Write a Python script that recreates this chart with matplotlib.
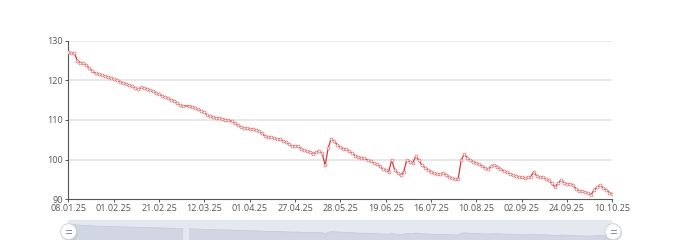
import numpy as np
import matplotlib
matplotlib.use("Agg")
import matplotlib.pyplot as plt
from matplotlib.patches import Ellipse
from matplotlib.lines import Line2D

# ---- data ----
tick_labels = ["08.01.25", "01.02.25", "21.02.25", "12.03.25", "01.04.25", "27.04.25",
               "28.05.25", "19.06.25", "16.07.25", "10.08.25", "02.09.25", "24.09.25", "10.10.25"]
label_step = 15

values = [
    127.1, 127.0, 126.8, 125.0, 124.5, 124.3, 123.8, 123.0, 122.3, 121.8,
    121.6, 121.4, 121.1, 120.9, 120.6, 120.4, 120.1, 119.7, 119.4, 119.2,
    118.8, 118.6, 118.1, 117.7, 118.2, 118.1, 117.9, 117.6, 117.3, 116.9,
    116.5, 116.1, 115.8, 115.5, 115.1, 114.9, 114.3, 113.8, 113.6, None,
    113.5, 113.4, 113.0, 112.7, 112.3, 111.9, 111.2, 110.9, 110.7, 110.6,
    110.5, 110.3, 110.1, 110.0, 109.7, 109.2, 108.7, 108.3, 108.0, 107.9,
    107.8, 107.7, 107.5, 107.2, 106.6, 106.0, 105.8, 105.6, 105.4, 105.3,
    105.1, 104.8, 104.5, 103.9, 103.4, 103.5, 103.4, 102.8, 102.4, 102.2,
    102.0, 101.5, 101.9, 102.2, 101.6, 98.6, 103.0, 105.3, 104.6, 103.8,
    103.1, 102.8, 102.6, 102.1, 101.6, 101.0, 100.7, 100.5, 100.3, 99.9,
    99.6, 99.2, 98.9, 98.3, 97.7, 97.3, 96.9, 99.9, 97.4, 96.6,
    96.1, 97.0, 99.9, 99.5, 99.2, 100.9, 99.8, 98.6, 98.0, 97.5,
    97.0, 96.6, 96.4, 96.3, 96.7, 96.2, 95.7, 95.3, 95.0, 95.1,
    99.9, 101.4, 100.5, 99.8, 99.5, 99.2, 98.8, 98.3, 97.9, 97.6,
    98.4, 98.6, 98.2, 97.7, 97.2, 96.8, 96.5, 96.2, 95.9, 95.7,
    95.5, 95.4, 95.5, 95.7, 96.9, 95.9, 95.7, 95.5, 95.1, 94.8,
    94.0, 93.1, 94.0, 94.8, 94.2, 93.9, 93.8, 93.6, 92.6, 92.2,
    92.0, 91.8, 91.5, 91.2, 92.4, 93.1, 93.5, 92.9, 92.4, 91.7,
    91.4,
]
y_ticks = [90, 100, 110, 120, 130]

# ---- figure ----
W, H = 680, 240
fig = plt.figure(figsize=(W / 100, H / 100), dpi=100)
plt.rcParams['font.family'] = ['Open Sans', 'DejaVu Sans']

x0, x1 = 68.3, 612.3
ytop, ybot = 40.7, 199.3
ax = fig.add_axes([x0 / W, 1 - ybot / H, (x1 - x0) / W, (ybot - ytop) / H])

v = np.array([np.nan if a is None else a for a in values], dtype=float)
idx = np.arange(len(v))
ok = ~np.isnan(v)

line_color = "#d23a3a"
ax.plot(idx[ok], v[ok], color=line_color, lw=0.9, zorder=3,
        marker="o", markersize=2.1, markerfacecolor="white",
        markeredgecolor="#de6a6a", markeredgewidth=0.5)

ax.set_xlim(0, len(v) - 1)
ax.set_ylim(90, 130)
ax.set_yticks(y_ticks)
ax.set_yticklabels([str(t) for t in y_ticks])
tick_pos = [i * label_step for i in range(len(tick_labels))]
ax.set_xticks(tick_pos)
ax.set_xticklabels(tick_labels)

grid_c = "#e2e2e2"
for t in y_ticks[1:]:
    ax.axhline(t, color=grid_c, lw=1.1, zorder=1)

axis_c = "#555555"
for s in ["top", "right"]:
    ax.spines[s].set_visible(False)
for s in ["left", "bottom"]:
    ax.spines[s].set_color(axis_c)
    ax.spines[s].set_linewidth(0.8)
ax.tick_params(axis="both", colors=axis_c, labelsize=6.5, length=2.5, width=0.7, pad=1.2)
ax.tick_params(axis="x", pad=0.6)
ax.set_facecolor("none")

# ---- dataZoom slider ----
sy_top = 219.5
sax = fig.add_axes([x0 / W, 0, (x1 - x0) / W, (H - sy_top) / H])
sax.set_xlim(0, len(v) - 1)
sax.set_ylim(79.6, 141.7)
sax.set_facecolor("#e4e9f1")
sax.fill_between(idx, 79.6, v, color="#d0d7e2", lw=0)
sax.plot(idx, v, color="#c6cedb", lw=0.6)
sax.set_xticks([])
sax.set_yticks([])
for s in sax.spines.values():
    s.set_visible(False)

def handle(xp, yp):
    r = 8.0
    fig.add_artist(Ellipse(((xp + 1) / W, 1 - (yp + 1.5) / H), 2 * r / W, 2 * r / H,
                           transform=fig.transFigure, facecolor="#b0b6c0", alpha=0.45,
                           edgecolor="none", zorder=5))
    fig.add_artist(Ellipse((xp / W, 1 - yp / H), 2 * r / W, 2 * r / H,
                           transform=fig.transFigure, facecolor="white",
                           edgecolor="#c8ccd4", lw=0.6, zorder=6))
    for dy in (-1.6, 1.6):
        fig.add_artist(Line2D([(xp - 2.5) / W, (xp + 2.5) / W],
                              [1 - (yp + dy) / H, 1 - (yp + dy) / H],
                              transform=fig.transFigure, color="#8a9099", lw=0.7, zorder=7))

handle(68.6, 231.7)
handle(613.0, 231.7)

fig.savefig("out.png", dpi=100, facecolor="white")
